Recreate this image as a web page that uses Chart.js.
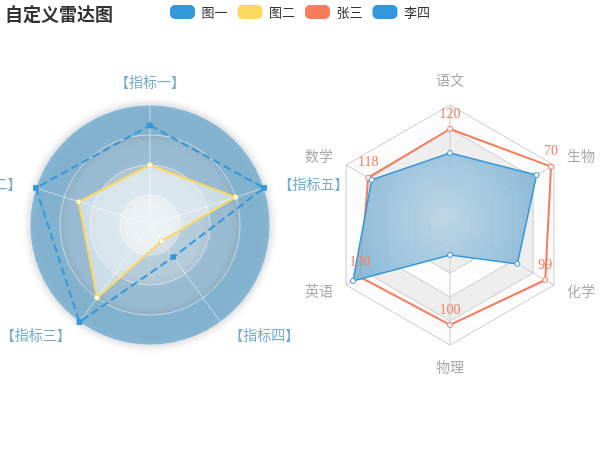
<!DOCTYPE html>
<html>
<head>
<meta charset="utf-8">
<script src="https://cdn.jsdelivr.net/npm/chart.js@4.4.1/dist/chart.umd.min.js"></script>
<style>
  html, body { margin: 0; padding: 0; background: #fff; }
  #wrap { width: 600px; height: 450px; position: relative; }
</style>
</head>
<body>
<div id="wrap"><canvas id="c" width="600" height="450"></canvas></div>
<script>
// ---------- data ----------
const titleText = '自定义雷达图';
const seriesNames = ['图一', '图二', '张三', '李四'];
const leftIndicators = ['指标一', '指标二', '指标三', '指标四', '指标五'];
// values as percent of each indicator's max
const tuYi = [83, 100, 100, 33, 100];
const tuEr = [50, 62.5, 75, 16.5, 75];
const rightIndicators = ['语文', '数学', '英语', '物理', '化学', '生物'];
const rightMax = [150, 150, 150, 120, 108, 72];
const zhangSan = [120, 118, 130, 100, 99, 70];
const liSi = [90, 113, 140, 30, 70, 60];

// ---------- style ----------
const BLUE = '#3398DB', YELLOW = '#FDD85E', RED = '#F87B5C';
const legendColors = [BLUE, YELLOW, RED, BLUE];
const CJK = "'Noto Sans CJK SC', 'Noto Sans', sans-serif";
const SERIF = "'Liberation Serif', 'Noto Sans CJK SC', serif";
const NAME_SIZE = 14;
const leftAreaColors = ['rgba(114,172,209,0.2)', 'rgba(114,172,209,0.4)', 'rgba(114,172,209,0.6)', 'rgba(114,172,209,0.8)'];
const rightAreaColors = ['rgba(250,250,250,0.3)', 'rgba(200,200,200,0.3)'];
const geom = { r: { cx: 150, cy: 225, R: 120 }, r2: { cx: 450, cy: 225, R: 120 } };

// ECharts lays axes counter-clockwise, Chart.js clockwise: reorder
const ccw = arr => [arr[0], ...arr.slice(1).reverse()];
const pct = (vals, max) => vals.map((v, i) => v / max[i] * 100);

function placeScale(scale) {
  const g = geom[scale.id];
  scale.left = -5000; scale.right = 5000; scale.top = -5000; scale.bottom = 5000;
  scale.xCenter = g.cx; scale.yCenter = g.cy; scale.drawingArea = g.R;
}
function centerLabels(scale) {
  const items = scale._pointLabelItems;
  if (!items) return;
  const h = NAME_SIZE * 1.2;
  items.forEach((it, i) => {
    const deg = Math.round(scale.getIndexAngle(i) * 180 / Math.PI) % 360;
    if (deg === 0 || deg === 90 || deg === 180 || deg === 270) return;
    const d = (deg < 90 || deg > 270) ? h / 2 : -h / 2;
    it.y += d; it.top += d; it.bottom += d;
  });
}

function liSiGradient(context) {
  const chart = context.chart;
  const scale = chart.scales.r2;
  const vals = ccw(pct(liSi, rightMax));
  if (!scale || scale.drawingArea === undefined || !scale._pointLabels) return 'rgba(114,172,209,0.9)';
  const pts = vals.map((v, i) => scale.getPointPositionForValue(i, v));
  const xs = pts.map(p => p.x), ys = pts.map(p => p.y);
  const x0 = Math.min(...xs), x1 = Math.max(...xs), y0 = Math.min(...ys), y1 = Math.max(...ys);
  const cx = (x0 + x1) / 2, cy = (y0 + y1) / 2, r = Math.min(x1 - x0, y1 - y0);
  const g = chart.ctx.createRadialGradient(cx, cy, 0, cx, cy, r);
  g.addColorStop(0, 'rgba(184,211,228,0.9)');
  g.addColorStop(1, 'rgba(114,172,209,0.9)');
  return g;
}

const splitAreaPlugin = {
  id: 'splitAreas',
  beforeDraw(chart) {
    const ctx = chart.ctx;
    ctx.save();
    ctx.fillStyle = '#fff';
    ctx.fillRect(0, 0, chart.width, chart.height);
    // left: circular rings with shadow
    const s1 = chart.scales.r;
    const d1 = s1.ticks.map(t => s1.getDistanceFromCenterForValue(t.value));
    for (let i = 0; i < d1.length - 1; i++) {
      ctx.save();
      ctx.beginPath();
      ctx.arc(s1.xCenter, s1.yCenter, d1[i + 1], 0, Math.PI * 2);
      if (d1[i] > 0) {
        ctx.moveTo(s1.xCenter + d1[i], s1.yCenter);
        ctx.arc(s1.xCenter, s1.yCenter, d1[i], Math.PI * 2, 0, true);
      }
      ctx.closePath();
      ctx.fillStyle = leftAreaColors[i % leftAreaColors.length];
      ctx.shadowColor = 'rgba(0,0,0,0.3)';
      ctx.shadowBlur = 10;
      ctx.fill('evenodd');
      ctx.restore();
    }
    // right: polygon rings
    const s2 = chart.scales.r2;
    const n = s2._pointLabels.length;
    const d2 = s2.ticks.map(t => s2.getDistanceFromCenterForValue(t.value));
    for (let i = 0; i < d2.length - 1; i++) {
      ctx.beginPath();
      for (let k = 0; k < n; k++) {
        const p = s2.getPointPosition(k, d2[i + 1]);
        k === 0 ? ctx.moveTo(p.x, p.y) : ctx.lineTo(p.x, p.y);
      }
      ctx.closePath();
      if (d2[i] > 0) {
        for (let k = n - 1; k >= 0; k--) {
          const p = s2.getPointPosition(k, d2[i]);
          k === n - 1 ? ctx.moveTo(p.x, p.y) : ctx.lineTo(p.x, p.y);
        }
        ctx.closePath();
      }
      ctx.fillStyle = rightAreaColors[i % 2];
      ctx.fill('evenodd');
    }
    ctx.restore();
  }
};

const valueLabelPlugin = {
  id: 'valueLabels',
  afterDatasetsDraw(chart) {
    const meta = chart.getDatasetMeta(2);
    const vals = ccw(zhangSan);
    const ctx = chart.ctx;
    ctx.save();
    ctx.font = '14px ' + SERIF;
    ctx.fillStyle = RED;
    ctx.textAlign = 'center';
    ctx.textBaseline = 'middle';
    meta.data.forEach((pt, i) => ctx.fillText(String(vals[i]), pt.x, pt.y - 15));
    ctx.restore();
  }
};

Chart.defaults.font.family = CJK;

new Chart(document.getElementById('c'), {
  type: 'radar',
  data: {
    labels: ccw(leftIndicators),
    datasets: [
      { label: seriesNames[0], rAxisID: 'r', data: ccw(tuYi), order: 3, clip: false,
        borderColor: BLUE, borderWidth: 2, borderDash: [8, 4], fill: false, backgroundColor: 'rgba(0,0,0,0)',
        pointStyle: 'rect', pointRadius: 4, pointBackgroundColor: BLUE, pointBorderColor: BLUE, pointBorderWidth: 0 },
      { label: seriesNames[1], rAxisID: 'r', data: ccw(tuEr), order: 2, clip: false,
        borderColor: YELLOW, borderWidth: 2, fill: true, backgroundColor: 'rgba(255,255,255,0.5)',
        pointRadius: 2.5, pointBackgroundColor: '#fff', pointBorderColor: YELLOW, pointBorderWidth: 1 },
      { label: seriesNames[2], rAxisID: 'r2', data: ccw(pct(zhangSan, rightMax)), order: 1, clip: false,
        borderColor: RED, borderWidth: 2, fill: false, backgroundColor: 'rgba(0,0,0,0)',
        pointRadius: 2.5, pointBackgroundColor: '#fff', pointBorderColor: RED, pointBorderWidth: 1 },
      { label: seriesNames[3], rAxisID: 'r2', data: ccw(pct(liSi, rightMax)), order: 0, clip: false,
        borderColor: BLUE, borderWidth: 1.5, fill: true, backgroundColor: liSiGradient,
        pointRadius: 2.5, pointBackgroundColor: '#fff', pointBorderColor: BLUE, pointBorderWidth: 1 }
    ]
  },
  options: {
    responsive: false,
    animation: false,
    events: [],
    layout: { padding: { top: -5, left: 5, right: 5, bottom: 0 } },
    elements: { line: { tension: 0 } },
    scales: {
      r: {
        type: 'radialLinear', axis: 'r', min: 0, max: 100,
        labels: ccw(leftIndicators),
        ticks: { display: false, stepSize: 25 },
        grid: { circular: true, color: 'rgba(255,255,255,0.5)', lineWidth: 1 },
        angleLines: { color: 'rgba(255,255,255,0.5)', lineWidth: 1 },
        pointLabels: { color: '#72ACD1', padding: 15, font: { size: NAME_SIZE, family: CJK },
          callback: v => '【' + v + '】' },
        afterSetDimensions: placeScale,
        afterFit: centerLabels
      },
      r2: {
        type: 'radialLinear', axis: 'r', min: 0, max: 100,
        labels: ccw(rightIndicators),
        ticks: { display: false, stepSize: 20 },
        grid: { circular: false, color: '#ccc', lineWidth: 1 },
        angleLines: { color: '#ccc', lineWidth: 1 },
        pointLabels: { color: '#aaa', padding: 15, font: { size: NAME_SIZE, family: SERIF } },
        afterSetDimensions: placeScale,
        afterFit: centerLabels
      }
    },
    plugins: {
      tooltip: { enabled: false },
      title: {
        display: true, text: titleText, align: 'start', color: '#333',
        font: { size: 18, weight: 'bold', family: CJK },
        padding: { top: 8, bottom: -29.6 }
      },
      legend: {
        display: true, position: 'top', align: 'center',
        labels: {
          boxWidth: 25, boxHeight: 14, padding: 10, color: '#333',
          useBorderRadius: true, borderRadius: 5,
          font: { size: 13, family: CJK },
          generateLabels: chart => chart.data.datasets.map((ds, i) => ({
            text: ds.label, fillStyle: legendColors[i], strokeStyle: legendColors[i],
            lineWidth: 0, hidden: false, datasetIndex: i, fontColor: '#333', borderRadius: 5
          }))
        }
      }
    }
  },
  plugins: [splitAreaPlugin, valueLabelPlugin]
});
</script>
</body>
</html>
